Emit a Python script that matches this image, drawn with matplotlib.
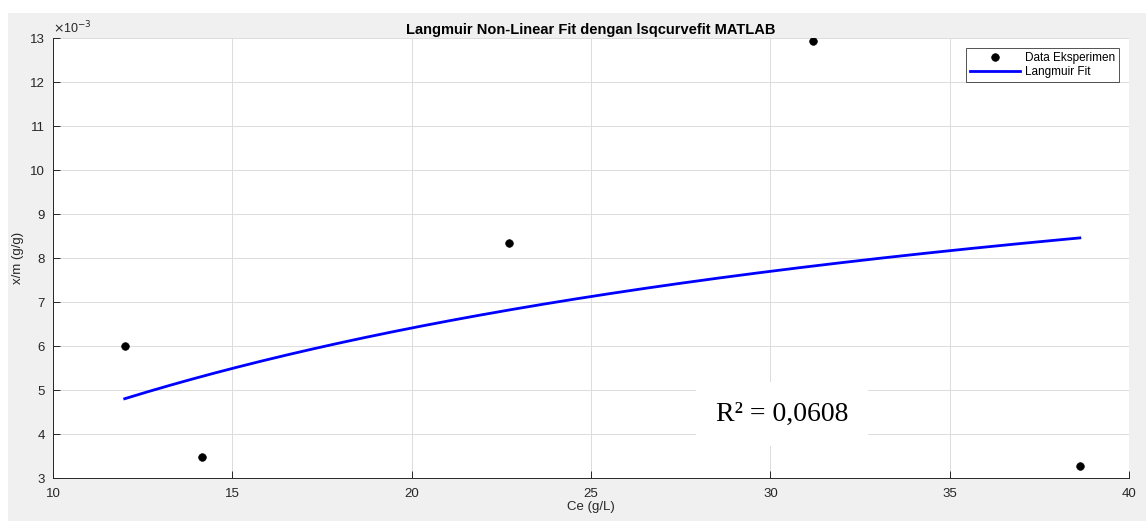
import numpy as np
import matplotlib
matplotlib.use("Agg")
import matplotlib.pyplot as plt
from matplotlib.patches import Rectangle

# Data
ce_data = [12.0, 14.15, 22.7, 31.2, 38.63]
qe_data = [6.01e-3, 3.47e-3, 8.34e-3, 12.93e-3, 3.28e-3]

# Langmuir fit parameters
qm_fit = 12.87e-3
kl_fit = 0.0496

x_ticks = [10, 15, 20, 25, 30, 35, 40]
y_ticks = [3, 4, 5, 6, 7, 8, 9, 10, 11, 12, 13]

plt.rcParams['font.family'] = ['Liberation Sans', 'DejaVu Sans']

fig = plt.figure(figsize=(11.46, 5.21), dpi=100)
fig.patch.set_facecolor('white')
fig.patches.append(Rectangle((8/1146, 0), 1 - 8/1146, 1 - 13/521,
                             transform=fig.transFigure, facecolor='#f0f0f0',
                             edgecolor='none', zorder=-10))

ax = fig.add_axes([53/1146, 1 - 478/521, (1129 - 53)/1146, (478 - 38)/521])
ax.set_facecolor('white')

c_fit = np.linspace(min(ce_data), max(ce_data), 300)
q_fit = qm_fit * kl_fit * c_fit / (1 + kl_fit * c_fit)

scale = 1e3
ax.plot(np.array(ce_data), np.array(qe_data) * scale, 'o', color='black',
        markersize=5.5, markeredgewidth=0.5, label='Data Eksperimen', zorder=3)
ax.plot(c_fit, q_fit * scale, '-', color='#0000ff', linewidth=2.0,
        label='Langmuir Fit', zorder=2)

ax.set_xlim(10, 40)
ax.set_ylim(3, 13)
ax.set_xticks(x_ticks)
ax.set_yticks(y_ticks)
ax.set_xticklabels([str(t) for t in x_ticks])
ax.set_yticklabels([str(t) for t in y_ticks])
ax.grid(True, color='#dcdcdc', linewidth=0.7)
ax.set_axisbelow(True)
ax.tick_params(direction='in', length=5, colors='#262626', labelsize=9.5,
               top=False, right=False, width=0.7)
ax.tick_params(axis='y', pad=6)
ax.tick_params(axis='x', pad=7)
for s in ['top', 'right']:
    ax.spines[s].set_visible(False)
for s in ['left', 'bottom']:
    ax.spines[s].set_color('#262626')
    ax.spines[s].set_linewidth(0.7)

ax.text(0.0, 1.003, r'$\times$10$^{-3}$', transform=ax.transAxes, fontsize=9,
        color='#262626', ha='left', va='bottom')

ax.set_title('Langmuir Non-Linear Fit dengan lsqcurvefit MATLAB', fontsize=10.5,
             fontweight='bold', pad=3)
ax.set_xlabel('Ce (g/L)', fontsize=9.5, color='#262626', labelpad=1)
ax.set_ylabel('x/m (g/g)', fontsize=9.5, color='#262626', labelpad=4)

leg = ax.legend(loc='upper right', fontsize=8.5, frameon=True, fancybox=False,
                edgecolor='#262626', borderpad=0.35, handlelength=4.2,
                handletextpad=0.4, labelspacing=0.15, borderaxespad=0,
                bbox_to_anchor=(0.9907, 0.977))
leg.get_frame().set_linewidth(0.7)

ax.text(0.6775, 0.145, 'R\u00b2 = 0,0608', transform=ax.transAxes,
        family=['Liberation Serif', 'DejaVu Serif'], fontsize=20,
        ha='center', va='center', zorder=5,
        bbox=dict(facecolor='white', edgecolor='none', pad=14))

fig.savefig('out.png', dpi=100, facecolor=fig.get_facecolor())
